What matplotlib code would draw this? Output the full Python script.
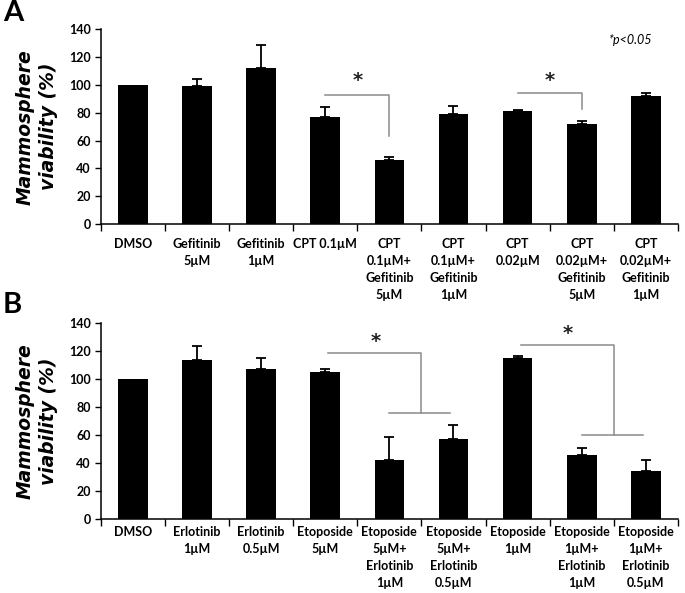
import matplotlib
matplotlib.use("Agg")
import matplotlib.pyplot as plt
import numpy as np

# ---------------- data ----------------
labels_a = ["DMSO", "Gefitinib\n5µM", "Gefitinib\n1µM", "CPT 0.1µM",
            "CPT\n0.1µM+\nGefitinib\n5µM", "CPT\n0.1µM+\nGefitinib\n1µM",
            "CPT\n0.02µM", "CPT\n0.02µM+\nGefitinib\n5µM",
            "CPT\n0.02µM+\nGefitinib\n1µM"]
values_a = [100, 99, 112, 77, 46, 79, 81, 72, 92]
errors_a = [0, 5, 17, 7, 2, 5.5, 0.8, 2, 2.5]

labels_b = ["DMSO", "Erlotinib\n1µM", "Erlotinib\n0.5µM", "Etoposide\n5µM",
            "Etoposide\n5µM+\nErlotinib\n1µM", "Etoposide\n5µM+\nErlotinib\n0.5µM",
            "Etoposide\n1µM", "Etoposide\n1µM+\nErlotinib\n1µM",
            "Etoposide\n1µM+\nErlotinib\n0.5µM"]
values_b = [100, 114, 107, 105, 42, 57, 115, 46, 34]
errors_b = [0, 10, 8, 2.5, 16.5, 10.5, 1.5, 4.5, 8.5]

yticks = [0, 20, 40, 60, 80, 100, 120, 140]

# significance brackets: (x_start, x_end, y_top, y_bottom, star_x, star_y)
brackets_a = [(3.0, 4.0, 92.5, 63.5, 3.5, 103),
              (6.0, 7.0, 94.5, 82.5, 6.5, 103)]
# bracket with a group bar: (x_start, x_drop, y_top, y_group, grp_x0, grp_x1, star_x, star_y)
brackets_b = [(3.05, 4.5, 118.5, 76.0, 4.0, 4.95, 3.78, 127),
              (6.05, 7.5, 124.5, 60.0, 7.0, 7.95, 6.78, 133)]

# ---------------- figure ----------------
fig = plt.figure(figsize=(6.85, 5.93), dpi=100)
left, right = 100.7 / 685, 678 / 685
ax_a = fig.add_axes([left, 1 - 224 / 593, right - left, (224 - 29.3) / 593])
ax_b = fig.add_axes([left, 1 - 519 / 593, right - left, (519 - 323.3) / 593])

tick_font = dict(family="Lato", weight="bold", size=9)
gray = "#8a8a8a"


def style_axis(ax, labels, values, errors, pad):
    x = np.arange(len(values))
    ax.bar(x, values, width=0.46, color="black", zorder=2)
    err = np.array(errors, dtype=float)
    has = err > 0
    ax.errorbar(x[has], np.array(values)[has], yerr=[np.zeros(has.sum()), err[has]],
                fmt="none", ecolor="black", elinewidth=1.3, capsize=3.5,
                capthick=1.3, zorder=3)
    ax.set_xlim(-0.5, len(values) - 0.5)
    ax.set_ylim(0, 140)
    ax.set_yticks(yticks)
    ax.set_yticklabels([str(t) for t in yticks], fontdict=tick_font)
    ax.set_xticks(x)
    ax.set_xticklabels(labels, fontdict=tick_font, linespacing=1.5,
                       va="top", ha="center", multialignment="center")
    ax.set_xticks(np.arange(len(values) + 1) - 0.5, minor=True)
    ax.tick_params(axis="x", which="major", length=0, pad=pad)
    ax.tick_params(axis="x", which="minor", length=5, width=1, direction="out")
    ax.tick_params(axis="y", length=4, width=1, direction="out", pad=3)
    for s in ["top", "right"]:
        ax.spines[s].set_visible(False)
    for s in ["left", "bottom"]:
        ax.spines[s].set_linewidth(1.1)


style_axis(ax_a, labels_a, values_a, errors_a, pad=10)
style_axis(ax_b, labels_b, values_b, errors_b, pad=5)

star_kw = dict(ha="center", va="center", fontsize=14, weight="bold",
               color="#222222", family="DejaVu Sans")
for (x0, x1, yt, yb, sx, sy) in brackets_a:
    ax_a.plot([x0, x1, x1], [yt, yt, yb], color=gray, lw=1.1, zorder=4)
    ax_a.text(sx, sy, "*", **star_kw)

for (x0, xd, yt, yg, g0, g1, sx, sy) in brackets_b:
    ax_b.plot([x0, xd, xd], [yt, yt, yg], color=gray, lw=1.1, zorder=4)
    ax_b.plot([g0, g1], [yg, yg], color=gray, lw=1.1, zorder=4)
    ax_b.text(sx, sy, "*", **star_kw)

ax_a.text(7.77, 132, "*p<0.05", ha="center", va="center", fontsize=9,
          style="italic", family="Lato")

ylabel = "Mammosphere\nviability (%)"
for ax in (ax_a, ax_b):
    pos = ax.get_position()
    fig.text(37 / 685, (pos.y0 + pos.y1) / 2, ylabel, rotation=90, ha="center",
             va="center", fontsize=13.5, weight="bold", style="italic",
             family="DejaVu Sans", linespacing=1.3, multialignment="center")

fig.text(3 / 685, 1 - 13 / 593, "A", fontsize=21, weight="bold", family="Lato",
         ha="left", va="center")
fig.text(3 / 685, 1 - 305 / 593, "B", fontsize=21, weight="bold", family="Lato",
         ha="left", va="center")

fig.savefig("out.png", dpi=100)
